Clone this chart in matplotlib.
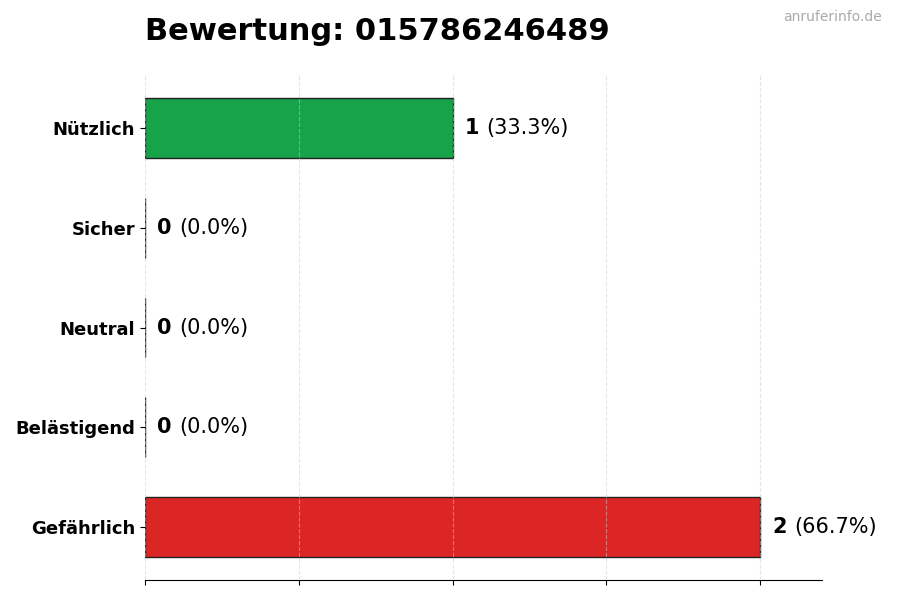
import matplotlib
matplotlib.use("Agg")
import matplotlib.pyplot as plt
from matplotlib.offsetbox import HPacker, TextArea, AnnotationBbox

# Daten
kategorien = ["Gefährlich", "Belästigend", "Neutral", "Sicher", "Nützlich"]
anzahl = [2, 0, 0, 0, 1]
farben = ["#dc2626", "#f97316", "#9ca3af", "#3b82f6", "#16a34a"]
titel = "Bewertung: 015786246489"
quelle = "anruferinfo.de"

gesamt = sum(anzahl)

fig = plt.figure(figsize=(9, 6), dpi=100)
ax = fig.add_axes([0.161, 0.0333, 0.752, 0.8417])

y = list(range(len(kategorien)))
ax.barh(y, anzahl, height=0.6, color=farben, edgecolor="#222222", linewidth=1.0, zorder=2)

ax.set_xlim(0, 2.2)
ax.set_xticks([0, 0.5, 1, 1.5, 2])
ax.set_xticklabels([])
ax.set_yticks(y)
ax.set_yticklabels(kategorien, fontsize=13, fontweight="bold")
ax.grid(axis="x", linestyle="--", color="#cccccc", alpha=0.5, linewidth=0.8, zorder=3)
ax.set_axisbelow(False)
for s in ["top", "right", "left"]:
    ax.spines[s].set_visible(False)

# Beschriftung: Zahl fett, Prozent normal
for yi, n in zip(y, anzahl):
    pct = 100 * n / gesamt if gesamt else 0
    box = HPacker(children=[
        TextArea(str(n), textprops=dict(fontsize=15, fontweight="bold")),
        TextArea(f"({pct:.1f}%)", textprops=dict(fontsize=15)),
    ], align="baseline", pad=0, sep=5)
    ab = AnnotationBbox(box, (n, yi), xybox=(9, 0), xycoords="data",
                        boxcoords="offset points", box_alignment=(0, 0.5),
                        frameon=False)
    ax.add_artist(ab)

fig.text(0.161, 0.947, titel, fontsize=22, fontweight="bold", ha="left", va="center")
fig.text(0.98, 0.971, quelle, fontsize=10, color="#aaaaaa", ha="right", va="center")

fig.savefig("out.png", dpi=100)
